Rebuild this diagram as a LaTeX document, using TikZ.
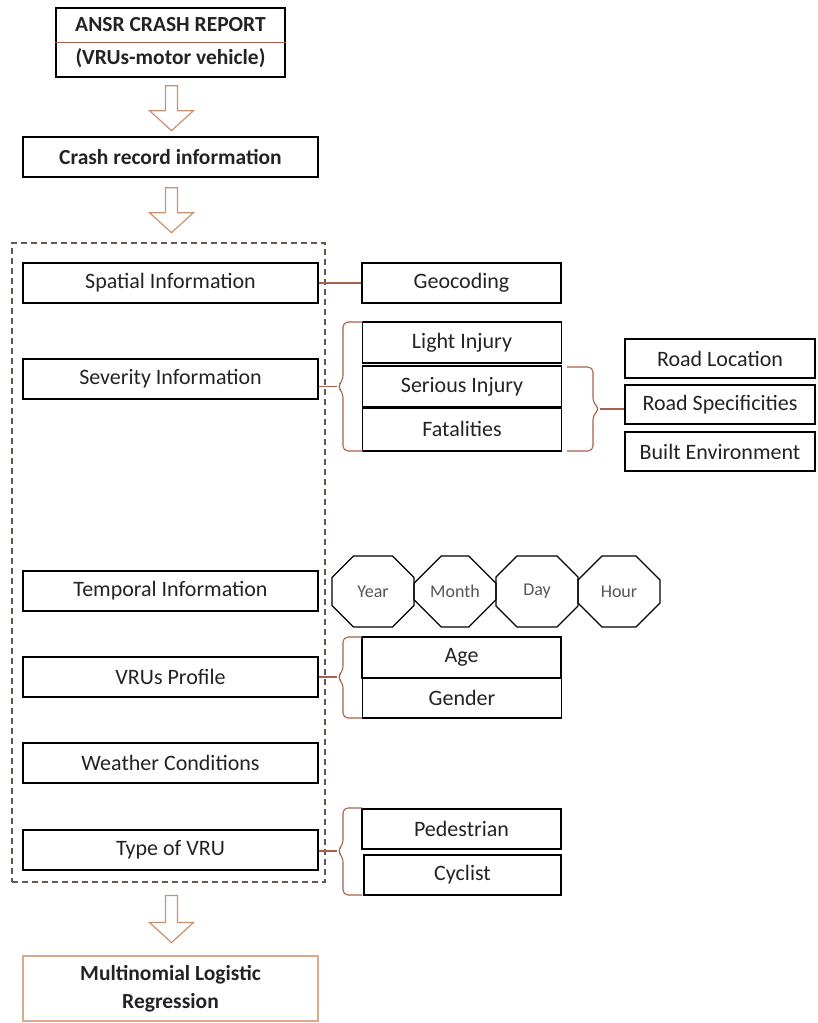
\documentclass[tikz,border=0pt]{standalone}
\usepackage{fontspec}
\setmainfont{Carlito}
\usetikzlibrary{shapes.misc,calc}
\definecolor{brc}{RGB}{168,96,76}
\definecolor{arc}{RGB}{200,145,112}
\definecolor{dsh}{RGB}{100,88,80}
\definecolor{mlrc}{RGB}{215,170,140}
\definecolor{txt}{RGB}{35,35,35}
\definecolor{octtxt}{RGB}{85,85,85}
\begin{document}
\begin{tikzpicture}[x=1pt,y=-1pt,
  box/.style={draw=black, line width=1.3pt, rectangle, inner sep=0pt, minimum height=40pt,
    font=\fontsize{22}{26}\selectfont, text=txt},
  mainbox/.style={box, minimum width=295pt},
  subbox/.style={box, minimum width=199pt},
  rbox/.style={box, minimum width=190pt, minimum height=39pt},
  octo/.style={chamfered rectangle, draw=black, line width=1.2pt, inner sep=0pt,
    chamfered rectangle xsep=20pt, chamfered rectangle ysep=21pt,
    minimum width=82pt, minimum height=71pt, font=\fontsize{18}{20}\selectfont, text=octtxt},
  blockarrow/.style={draw=arc, line width=1.2pt, line join=miter},
  brace/.style={draw=brc, line width=1.1pt, rounded corners=5pt},
  link/.style={draw=brc, line width=1.1pt},
]
\useasboundingbox (0,0) rectangle (817,1023);

% top
\node[box, minimum width=229pt, minimum height=69pt, align=center, font=\fontsize{21.5}{26}\bfseries] (ansr) at (170.5,42.5)
  {ANSR CRASH REPORT\\[7pt](VRUs-motor vehicle)};
\draw[brc, line width=1pt] (ansr.west) -- (ansr.east);

\node[box, minimum width=295pt, font=\fontsize{21.5}{26}\bfseries] (crash) at (170.5,157) {Crash record information};

% block arrows between the stages
\draw[blockarrow] ($(ansr.south)+(-5,8)$) -- ++(12,0) -- ++(0,25) -- ++(16,0) -- ++(-22,20) -- ++(-22,-20) -- ++(16,0) -- cycle;
\draw[blockarrow] ($(crash.south)+(-5,10)$) -- ++(12,0) -- ++(0,25) -- ++(16,0) -- ++(-22,20) -- ++(-22,-20) -- ++(16,0) -- cycle;

% dashed group
\node[draw=dsh, line width=1.1pt, dash pattern=on 6pt off 4pt, minimum width=313pt, minimum height=639pt, inner sep=0pt] (grp) at (168.5,562.5) {};

% main column
\node[mainbox] (spa) at (170.5,283) {Spatial Information};
\node[mainbox] (sev) at (170.5,379) {Severity Information};
\node[mainbox] (tem) at (170.5,591) {Temporal Information};
\node[mainbox] (vru) at (170.5,677) {VRUs Profile};
\node[mainbox] (wea) at (170.5,763) {Weather Conditions};
\node[mainbox] (typ) at (170.5,850) {Type of VRU};

\node[box, draw=mlrc, minimum width=295pt, minimum height=65pt, align=center, font=\fontsize{21.5}{28}\bfseries] (mlr) at (170.5,988.5)
  {Multinomial Logistic\\Regression};
\draw[blockarrow] ($(grp.south)+(-3,13)$) -- ++(12,0) -- ++(0,27) -- ++(16,0) -- ++(-22,20) -- ++(-22,-20) -- ++(16,0) -- cycle;

% spatial
\node[subbox] (geo) at (461.5,283) {Geocoding};
\draw[link] (spa.east) -- (geo.west);

% severity
\node[subbox, minimum height=41pt] (lig) at (462,342.5) {Light Injury};
\node[subbox, minimum height=41pt] (ser) at (462,386.5) {Serious Injury};
\node[subbox, minimum height=44pt] (fat) at (462,429) {Fatalities};
\draw[line width=2.6pt] (ser.south west) -- (ser.south east);
\coordinate (tipS) at (337,386.5);
\draw[brace] (363,322) -- (343,322) -- (343,380.5) -- (tipS) -- (343,392.5) -- (343,451) -- (363,451);
\draw[link] (sev.east |- tipS) -- (tipS);

\node[rbox] (rlo) at (720,358.5) {Road Location};
\node[rbox] (rsp) at (720,404.5) {Road Specificities};
\node[rbox] (ben) at (720,451.5) {Built Environment};
\coordinate (tipR) at (600,409);
\draw[brace] (567,367) -- (593,367) -- (593,403) -- (tipR) -- (593,415) -- (593,451) -- (567,451);
\draw[link] (tipR) -- (rsp.west |- tipR);

% temporal
\node[octo] (yea) at (373,591.5) {Year};
\node[octo] (mon) at (455,591.5) {Month};
\node[octo] (day) at (537,591.5) {\raisebox{3pt}{Day}};
\node[octo] (hou) at (619,591.5) {Hour};

% VRU profile
\node[subbox, minimum height=41pt] (age) at (461.5,657.5) {Age};
\node[subbox] (gen) at (462,698) {Gender};
\coordinate (tipV) at (337,677);
\draw[brace] (362,637) -- (343,637) -- (343,671) -- (tipV) -- (343,683) -- (343,718) -- (362,718);
\draw[link] (vru.east |- tipV) -- (tipV);

% type of VRU
\node[subbox] (ped) at (461.5,829) {Pedestrian};
\node[subbox, minimum width=197pt] (cyc) at (462.5,875) {Cyclist};
\coordinate (tipT) at (337,851);
\draw[brace] (362,808) -- (343,808) -- (343,845) -- (tipT) -- (343,857) -- (343,895) -- (362,895);
\draw[link] (typ.east |- tipT) -- (tipT);
\end{tikzpicture}
\end{document}
